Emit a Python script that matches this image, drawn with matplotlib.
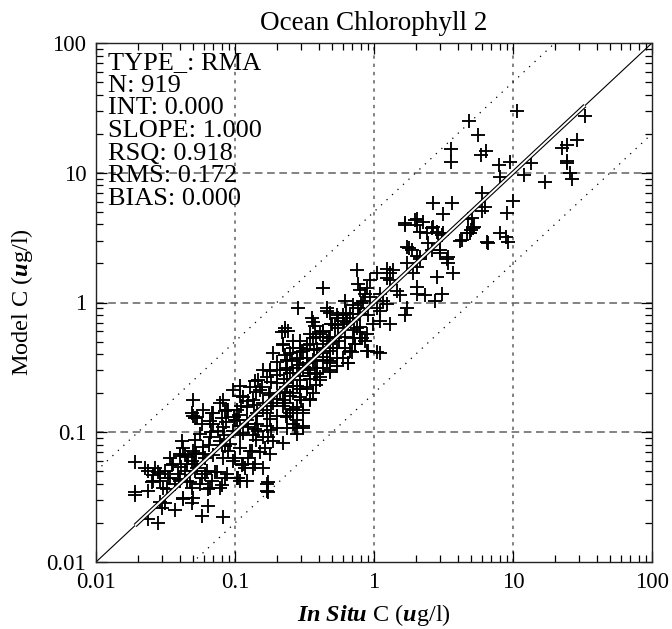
import matplotlib
matplotlib.use("Agg")
import matplotlib.pyplot as plt
import numpy as np

plt.rcParams.update({
    "font.family": "Liberation Serif",
    "mathtext.fontset": "custom",
    "mathtext.rm": "Liberation Serif",
    "mathtext.it": "Liberation Serif:italic",
    "mathtext.bf": "Liberation Serif:bold",
    "mathtext.bfit": "Liberation Serif:italic:bold",
})

# values, as (log10 in situ, log10 model)
HIGH_POINTS = [
    (1.029, 1.476), (0.683, 1.399), (0.748, 1.291), (0.554, 1.183), (0.554, 1.083),
    (0.770, 1.137), (0.806, 1.168), (0.899, 1.060), (0.978, 1.083), (0.906, 0.967),
    (1.129, 1.075), (1.079, 0.983), (1.230, 0.929), (1.353, 1.191), (1.388, 1.214),
    (1.460, 1.252), (1.388, 1.091), (1.388, 1.075), (1.410, 0.998), (1.424, 0.952),
    (1.518, 1.437), (0.777, 0.844), (0.799, 0.736), (0.777, 0.705), (1.000, 0.782),
    (0.957, 0.690), (0.424, 0.767), (0.561, 0.767), (0.496, 0.682), (0.676, 0.644),
    (0.719, 0.582), (0.698, 0.559), (0.669, 0.536), (0.619, 0.474), (0.813, 0.466),
    (0.906, 0.536), (0.950, 0.505), (0.964, 0.466), (0.223, 0.613), (0.295, 0.636),
    (0.309, 0.597), (0.331, 0.543), (0.353, 0.620), (0.424, 0.582), (0.460, 0.536),
    (0.489, 0.520), (0.237, 0.428), (0.252, 0.420), (0.388, 0.459), (0.475, 0.405),
    (0.532, 0.351), (0.331, 0.351),
]

UPPER_BAND = [
    (0.705, 0.655), (0.309, 0.647), (0.223, 0.601), (0.381, 0.532), (0.417, 0.578),
    (0.453, 0.540), (0.496, 0.532), (0.712, 0.578), (0.691, 0.532), (0.633, 0.478),
    (0.820, 0.462), (0.273, 0.401), (0.417, 0.401), (0.475, 0.385), (0.525, 0.339),
    (0.532, 0.308), (0.309, 0.362), (0.331, 0.339), (0.237, 0.301), (0.309, 0.270),
    (0.281, 0.231), (0.568, 0.231), (-0.122, 0.247), (0.022, 0.224), (0.094, 0.262),
    (0.115, 0.224), (0.137, 0.247), (0.094, 0.185), (0.115, 0.170), (0.453, 0.193),
    (-0.115, 0.146), (-0.050, 0.108), (-0.029, 0.170), (-0.367, 0.108), (0.309, 0.116),
    (0.309, 0.069), (0.367, 0.054), (0.489, 0.069), (0.439, 0.015), (0.165, 0.092),
    (0.187, 0.054), (-0.065, 0.069), (-0.029, 0.039), (0.043, 0.069), (0.065, 0.015),
    (0.094, -0.008), (0.022, -0.039), (0.043, -0.062), (-0.079, 0.015), (-0.115, -0.039),
    (-0.173, -0.085), (-0.151, -0.123), (-0.101, -0.085), (-0.043, -0.100), (0.043, -0.139),
    (-0.007, -0.162), (0.115, -0.162), (0.237, -0.046), (0.223, -0.100), (-0.338, -0.046),
    (-0.547, -0.046), (-0.446, -0.123), (-0.439, -0.154), (-0.281, -0.177), (-0.259, -0.200),
    (-0.223, -0.100), (-0.194, -0.154), (-0.122, -0.193), (-0.101, -0.231), (-0.050, -0.239),
    (-0.065, -0.293), (-0.151, -0.270), (-0.137, -0.316), (-0.173, -0.370), (-0.050, -0.370),
    (0.022, -0.385), (-0.187, -0.470), (-0.317, -0.270), (-0.338, -0.293), (-0.388, -0.239),
    (-0.439, -0.270), (-0.460, -0.316), (-0.482, -0.355), (-0.367, -0.347), (-0.317, -0.370),
    (-0.266, -0.347), (-0.640, -0.216), (-0.619, -0.216), (-0.655, -0.316), (-0.583, -0.293),
    (-0.532, -0.347), (-0.604, -0.393), (-0.532, -0.424), (-0.482, -0.424), (-0.439, -0.447),
    (-0.410, -0.501), (-0.367, -0.393), (-0.338, -0.447), (-0.388, -0.578), (-0.460, -0.547),
    (-0.511, -0.501), (-0.554, -0.501), (-0.583, -0.547), (-0.626, -0.524), (-0.532, -0.601),
    (-0.482, -0.655), (-0.439, -0.694), (-0.460, -0.755), (-0.583, -0.701), (-0.626, -0.655),
    (-0.655, -0.755), (-0.554, -0.809), (-0.604, -0.855), (-0.511, -0.832),
    (-0.187, -0.463), (-0.158, -0.385), (-0.043, -0.370), (0.043, -0.393), (-0.137, -0.316),
    (-0.086, -0.270), (-0.583, -0.832), (-0.583, -0.933), (-0.511, -0.971), (-0.568, -0.971),
    (-0.367, -0.501), (-0.317, -0.470), (-0.266, -0.424), (-0.295, -0.347), (-0.367, -0.316),
    (-0.410, -0.547),
]

MIDDLE_BAND = [
    (-0.338, -0.062), (-0.266, -0.100), (-0.302, -0.162), (-0.223, -0.139), (-0.640, -0.200),
    (-0.662, -0.231), (-0.460, -0.239), (-0.367, -0.216), (-0.281, -0.270), (-0.655, -0.331),
    (-0.583, -0.347), (-0.511, -0.370), (-0.410, -0.355), (-0.223, -0.424), (-0.727, -0.393),
    (-0.698, -0.462), (-0.626, -0.447), (-0.554, -0.432), (-0.482, -0.470), (-0.317, -0.524),
    (-0.266, -0.486), (-0.799, -0.524), (-0.748, -0.524), (-0.676, -0.524), (-0.604, -0.547),
    (-0.532, -0.563), (-0.460, -0.586), (-0.388, -0.601), (-0.834, -0.601), (-0.770, -0.578),
    (-0.698, -0.617), (-0.626, -0.624), (-0.554, -0.640), (-0.482, -0.663), (-0.892, -0.655),
    (-0.964, -0.640), (-0.820, -0.678), (-0.748, -0.694), (-0.676, -0.701), (-0.604, -0.717),
    (-0.532, -0.732), (-0.460, -0.740), (-1.014, -0.678), (-0.942, -0.732), (-0.870, -0.755),
    (-0.799, -0.771), (-0.727, -0.778), (-0.655, -0.794), (-0.583, -0.817), (-0.511, -0.848),
    (-1.086, -0.755), (-1.302, -0.755), (-1.309, -0.855), (-1.273, -0.886), (-1.230, -0.832),
    (-1.108, -0.778), (-1.158, -0.855), (-1.057, -0.832), (-0.986, -0.832), (-0.914, -0.809),
    (-0.842, -0.848), (-0.770, -0.855), (-0.698, -0.871), (-0.626, -0.886), (-0.554, -0.909),
    (-0.986, -0.909), (-0.914, -0.909), (-0.842, -0.933), (-0.770, -0.948), (-0.698, -0.971),
    (-0.626, -0.971), (-0.554, -1.010), (-0.511, -0.948), (-1.158, -0.933), (-1.086, -0.963),
    (-1.014, -0.987), (-0.942, -1.002), (-0.870, -1.025), (-0.799, -1.040), (-0.727, -1.064),
    (-0.655, -1.079), (-1.252, -1.010), (-1.180, -1.040), (-1.108, -1.064), (-1.036, -1.087),
    (-0.964, -1.118), (-0.892, -1.141), (-0.820, -1.156), (-0.748, -1.164), (-1.381, -1.064),
    (-1.374, -1.118), (-1.396, -1.164), (-1.302, -1.141), (-1.230, -1.164), (-1.158, -1.179),
    (-1.086, -1.195), (-1.014, -1.218), (-0.942, -1.241), (-0.870, -1.272), (-0.799, -1.279),
    (-1.468, -1.195), (-1.446, -1.241), (-1.345, -1.241), (-1.273, -1.272), (-1.201, -1.295),
    (-1.129, -1.310), (-1.057, -1.318), (-0.986, -1.349), (-0.914, -1.372), (-1.575, -1.272),
    (-1.540, -1.318), (-1.468, -1.349), (-1.396, -1.372), (-1.324, -1.387), (-1.252, -1.395),
    (-1.180, -1.426), (-1.108, -1.426), (-0.964, -1.372), (-0.770, -1.395), (-0.763, -1.464),
    (-1.302, -1.503), (-1.374, -1.503), (-1.518, -1.426), (-1.590, -1.372),
]

# the solid-black core of the cloud
DENSE_CORE = [
    (-0.964, -0.717), (-0.958, -0.801), (-0.970, -0.866), (-0.961, -0.952), (-0.967, -1.021),
    (-0.856, -0.604), (-0.849, -0.690), (-0.861, -0.788), (-0.852, -0.874), (-0.858, -0.975),
    (-0.851, -1.061), (-0.748, -0.527), (-0.741, -0.612), (-0.753, -0.713), (-0.744, -0.799),
    (-0.750, -0.897), (-0.743, -0.983), (-0.640, -0.405), (-0.634, -0.507), (-0.645, -0.590),
    (-0.637, -0.689), (-0.643, -0.774), (-0.636, -0.875), (-0.532, -0.296), (-0.527, -0.381),
    (-0.538, -0.482), (-0.529, -0.566), (-0.535, -0.667), (-0.528, -0.751), (-0.424, -0.180),
    (-0.419, -0.265), (-0.430, -0.366), (-0.421, -0.451), (-0.427, -0.550), (-0.420, -0.636),
    (-0.317, -0.081), (-0.312, -0.166), (-0.322, -0.265), (-0.314, -0.351), (-0.320, -0.451),
    (-0.313, -0.536), (-0.209, 0.012), (-0.204, -0.081), (-0.214, -0.166), (-0.206, -0.266),
    (-0.211, -0.351), (-0.101, 0.095), (-0.096, -0.004), (-0.106, -0.088), (-0.098, -0.188),
    (-0.104, -0.274), (-1.180, -0.912), (-1.174, -0.998), (-1.185, -1.097), (-1.072, -0.835),
    (-1.067, -0.921), (-1.077, -1.020), (-1.069, -1.106), (-1.288, -1.061), (-1.283, -1.160),
    (-1.293, -1.245), (-1.396, -1.182), (-1.391, -1.268), (-1.400, -1.361),
    (-0.910, -0.760), (-0.805, -0.650), (-0.700, -0.560), (-0.590, -0.450), (-0.480, -0.330),
    (-0.370, -0.230), (-0.260, -0.120), (-0.150, -0.020), (-0.905, -0.940), (-0.800, -0.830),
    (-0.695, -0.740), (-0.585, -0.640), (-0.475, -0.520), (-0.365, -0.420), (-0.255, -0.300),
    (-0.145, -0.210), (-1.120, -0.990), (-1.010, -0.880), (-1.230, -1.110), (-1.340, -1.190),
]

LOW_CLUSTER = [
    (-1.302, -0.871), (-1.288, -0.894), (-1.237, -0.933), (-1.360, -1.179), (-1.288, -1.164),
    (-1.309, -1.218), (-1.216, -1.202), (-1.093, -1.102), (-1.050, -1.141), (-1.000, -1.195),
    (-0.950, -1.256), (-0.878, -1.141), (-0.784, -1.118), (-0.763, -1.040), (-0.834, -0.987),
    (-0.906, -0.963), (-1.093, -0.894), (-1.050, -0.832), (-1.000, -0.909), (-1.165, -0.855),
    (-1.719, -1.233), (-1.626, -1.295), (-1.590, -1.333), (-1.554, -1.310), (-1.504, -1.295),
    (-1.597, -1.387), (-1.540, -1.372), (-1.482, -1.356), (-1.432, -1.395), (-1.489, -1.434),
    (-1.626, -1.449), (-1.719, -1.464), (-1.719, -1.487), (-1.410, -1.318), (-1.360, -1.295),
    (-1.345, -1.372), (-1.288, -1.295), (-1.237, -1.356), (-1.216, -1.318), (-1.165, -1.372),
    (-1.309, -1.426), (-1.194, -1.434), (-1.093, -1.410), (-1.144, -1.310), (-1.072, -1.349),
    (-1.540, -1.541), (-1.504, -1.549), (-1.374, -1.511), (-1.309, -1.549), (-1.432, -1.603),
    (-1.525, -1.580), (-1.237, -1.642), (-1.194, -1.572), (-1.086, -1.657), (-1.626, -1.665),
    (-1.554, -1.696), (-0.978, -1.349), (-0.928, -1.279), (-0.763, -1.387), (-0.770, -1.449),
    (-0.906, -1.195), (-0.856, -1.241), (-1.288, -1.241), (-1.453, -1.256), (-1.647, -1.272),
]

STAT_NAMES = ["TYPE_", "N", "INT", "SLOPE", "RSQ", "RMS", "BIAS"]
STAT_VALUES = ["RMA", "919", "0.000", "1.000", "0.918", "0.172", "0.000"]

INTERCEPT = 0.0
SLOPE = 1.0
FACTOR = 5.0

DECADES = [0.01, 0.1, 1, 10, 100]
DECADE_LABELS = ["0.01", "0.1", "1", "10", "100"]

pts = np.array(HIGH_POINTS + UPPER_BAND + MIDDLE_BAND + DENSE_CORE + LOW_CLUSTER)
in_situ = 10 ** pts[:, 0]
model = 10 ** pts[:, 1]

W, H = 672, 629
fig = plt.figure(figsize=(W / 100, H / 100), dpi=100)
ax = fig.add_axes([96 / W, 1 - 562 / H, 556 / W, 519 / H])
ax.set_xscale("log")
ax.set_yscale("log")
ax.set_xlim(0.01, 100)
ax.set_ylim(0.01, 100)

# grid
for v in DECADES[1:-1]:
    ax.axvline(v, color="#606060", lw=1.1, ls=(0, (2.2, 3.2)), zorder=1)
    ax.axhline(v, color="#606060", lw=1.1, ls=(0, (5, 3)), zorder=1)

# 1:1 and factor-of-5 lines
diag = np.array([0.01, 100])
ax.plot(diag, diag, color="k", lw=0.8, zorder=2)
ax.plot(diag, diag * FACTOR, color="k", lw=0.9, ls=(0, (1, 5)), zorder=2)
ax.plot(diag, diag / FACTOR, color="k", lw=0.9, ls=(0, (1, 5)), zorder=2)

ax.plot(in_situ, model, ls="none", marker="+", ms=9.8, mew=1.35, color="k", zorder=3)

# regression line over the data range
rx = np.array([in_situ.min(), in_situ.max()])
ry = 10 ** (INTERCEPT + SLOPE * np.log10(rx))
ax.plot(rx, ry, color="k", lw=3.0, solid_capstyle="butt", zorder=4)
ax.plot(rx, ry, color="white", lw=1.4, solid_capstyle="butt", zorder=5)

ax.set_xticks(DECADES)
ax.set_xticklabels(DECADE_LABELS)
ax.set_yticks(DECADES)
ax.set_yticklabels(DECADE_LABELS)
ax.tick_params(which="both", direction="in", top=True, right=True, width=0.9, labelsize=16.5)
ax.tick_params(which="major", length=8, pad=7)
ax.tick_params(which="minor", length=5)
for spine in ax.spines.values():
    spine.set_linewidth(1.0)
    spine.set_color("#222222")

ax.set_title("Ocean Chlorophyll 2", fontsize=19.5, pad=9)

fig.text(374 / W, 1 - 621 / H, r"$\mathbfit{In\ Situ}$ C ($\mathbfit{u}$g/l)",
         ha="center", va="baseline", fontsize=17.5)
fig.text(22 / W, 1 - 302 / H, r"Model C ($\mathbfit{u}$g/l)",
         ha="center", va="center", rotation=90, fontsize=17.5)

for i, (name, val) in enumerate(zip(STAT_NAMES, STAT_VALUES)):
    y_px = 69 + i * 22.7
    ax.text(108, H - y_px, f"{name}: {val}", transform=None, fontsize=19,
            ha="left", va="baseline")

fig.savefig("out.png", dpi=100)
